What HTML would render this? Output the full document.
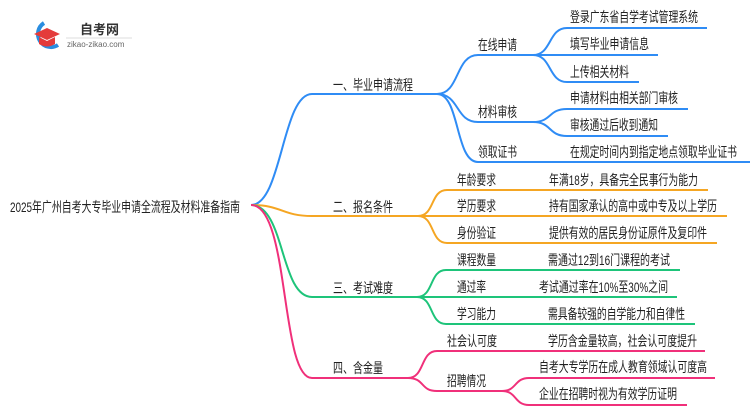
<!DOCTYPE html>
<html><head><meta charset="utf-8"><style>
html,body{margin:0;padding:0;background:#fff;}
svg{display:block;}
text{font-family:"Liberation Sans","Noto Sans CJK SC",sans-serif;fill:#222;font-size:14px;}
</style></head><body>
<svg width="750" height="410" viewBox="0 0 750 410" xmlns="http://www.w3.org/2000/svg">
<path d="M44 23 A13 13 0 1 0 58 45" fill="none" stroke="#2a8de0" stroke-width="4"/>
<path d="M34 34 L47 28 L60 34 L47 40 Z" fill="#e43b3b"/>
<path d="M39 37 L39 44 Q47 49 55 44 L55 37 L47 41 Z" fill="#e43b3b"/>
<text x="80" y="34" style="font-size:13px;font-weight:bold;fill:#333">自考网</text>
<line x1="66" y1="38" x2="132" y2="38" stroke="#ddd" stroke-width="1"/>
<text x="67" y="47" style="font-size:8px;fill:#666">zikao-zikao.com</text>

<text x="10" y="212" textLength="230" lengthAdjust="spacingAndGlyphs">2025年广州自考大专毕业申请全流程及材料准备指南</text>

<g fill="none" stroke-width="2">
<g stroke="#2f8cf5">
<path d="M251 205 C282 205 282 94 312 94 L437 94"/>
<path d="M437 94 C460 94 455 55 478 55 L533 55"/>
<path d="M437 94 C460 94 455 122 478 122 L533 122"/>
<path d="M437 94 C460 94 455 162 478 162 L750 162"/>
<path d="M533 55 C552 55 548 28 567 28 L707 28"/>
<path d="M533 55 L658 55"/>
<path d="M533 55 C552 55 548 82 567 82 L639 82"/>
<path d="M533 122 C552 122 548 109 567 109 L688 109"/>
<path d="M533 122 C552 122 548 136 567 136 L668 136"/>
</g>
<g stroke="#f5a623">
<path d="M251 205 C282 205 282 216 312 216 L418 216"/>
<path d="M418 216 C435 216 430 190 447 190 L708 190"/>
<path d="M418 216 L727 216"/>
<path d="M418 216 C435 216 430 243 447 243 L717 243"/>
</g>
<g stroke="#1ec47a">
<path d="M251 205 C285 205 280 297 312 297 L417 297"/>
<path d="M417 297 C434 297 429 270 446 270 L680 270"/>
<path d="M417 297 L677 297"/>
<path d="M417 297 C434 297 429 324 446 324 L695 324"/>
</g>
<g stroke="#f0307a">
<path d="M251 205 C290 205 280 378 312 378 L408 378"/>
<path d="M408 378 C425 378 420 351 437 351 L705 351"/>
<path d="M408 378 C425 378 420 391 437 391 L502 391"/>
<path d="M502 391 C517 391 514 378 529 378 L715 378"/>
<path d="M502 391 C517 391 514 405 529 405 L687 405"/>
</g>
</g>

<text x="333" y="90" textLength="80" lengthAdjust="spacingAndGlyphs">一、毕业申请流程</text>
<text x="333" y="212" textLength="60" lengthAdjust="spacingAndGlyphs">二、报名条件</text>
<text x="333" y="293" textLength="60" lengthAdjust="spacingAndGlyphs">三、考试难度</text>
<text x="333" y="373" textLength="50" lengthAdjust="spacingAndGlyphs">四、含金量</text>

<text x="478" y="50" textLength="39" lengthAdjust="spacingAndGlyphs">在线申请</text>
<text x="478" y="117" textLength="39" lengthAdjust="spacingAndGlyphs">材料审核</text>
<text x="478" y="157" textLength="39" lengthAdjust="spacingAndGlyphs">领取证书</text>
<text x="570" y="22" textLength="128" lengthAdjust="spacingAndGlyphs">登录广东省自学考试管理系统</text>
<text x="570" y="49" textLength="79" lengthAdjust="spacingAndGlyphs">填写毕业申请信息</text>
<text x="570" y="77" textLength="59" lengthAdjust="spacingAndGlyphs">上传相关材料</text>
<text x="570" y="103" textLength="108" lengthAdjust="spacingAndGlyphs">申请材料由相关部门审核</text>
<text x="570" y="130" textLength="88" lengthAdjust="spacingAndGlyphs">审核通过后收到通知</text>
<text x="570" y="157" textLength="167" lengthAdjust="spacingAndGlyphs">在规定时间内到指定地点领取毕业证书</text>

<text x="457" y="185" textLength="39" lengthAdjust="spacingAndGlyphs">年龄要求</text>
<text x="457" y="211" textLength="39" lengthAdjust="spacingAndGlyphs">学历要求</text>
<text x="457" y="238" textLength="39" lengthAdjust="spacingAndGlyphs">身份验证</text>
<text x="549" y="185" textLength="149" lengthAdjust="spacingAndGlyphs">年满18岁，具备完全民事行为能力</text>
<text x="549" y="211" textLength="168" lengthAdjust="spacingAndGlyphs">持有国家承认的高中或中专及以上学历</text>
<text x="549" y="238" textLength="158" lengthAdjust="spacingAndGlyphs">提供有效的居民身份证原件及复印件</text>

<text x="457" y="265" textLength="39" lengthAdjust="spacingAndGlyphs">课程数量</text>
<text x="457" y="292" textLength="29" lengthAdjust="spacingAndGlyphs">通过率</text>
<text x="457" y="319" textLength="39" lengthAdjust="spacingAndGlyphs">学习能力</text>
<text x="548" y="265" textLength="122" lengthAdjust="spacingAndGlyphs">需通过12到16门课程的考试</text>
<text x="539" y="292" textLength="129" lengthAdjust="spacingAndGlyphs">考试通过率在10%至30%之间</text>
<text x="548" y="319" textLength="137" lengthAdjust="spacingAndGlyphs">需具备较强的自学能力和自律性</text>

<text x="447" y="346" textLength="50" lengthAdjust="spacingAndGlyphs">社会认可度</text>
<text x="447" y="386" textLength="39" lengthAdjust="spacingAndGlyphs">招聘情况</text>
<text x="548" y="346" textLength="149" lengthAdjust="spacingAndGlyphs">学历含金量较高，社会认可度提升</text>
<text x="539" y="372" textLength="168" lengthAdjust="spacingAndGlyphs">自考大专学历在成人教育领域认可度高</text>
<text x="539" y="399" textLength="138" lengthAdjust="spacingAndGlyphs">企业在招聘时视为有效学历证明</text>
</svg>
</body></html>
